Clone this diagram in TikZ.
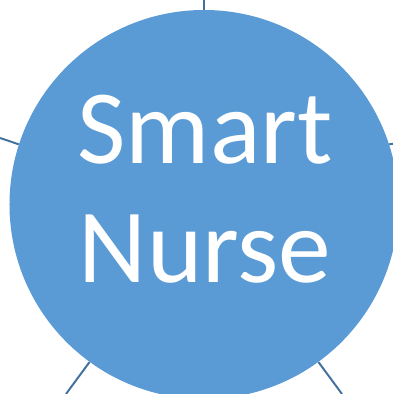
\documentclass[tikz,border=0pt]{standalone}
\usepackage{fontspec}
\setmainfont{Carlito}
\definecolor{hubfill}{HTML}{5B9BD5}
\definecolor{spoke}{HTML}{41719C}
\tikzset{
	hub/.style={circle, fill=hubfill, inner sep=0pt, minimum size=97.25mm},
	hubtext/.style={text=white, align=center, inner sep=0pt, font=\fontsize{75}{85}\selectfont},
	spokeline/.style={spoke, line width=1.4pt}
}
\begin{document}
\begin{tikzpicture}[x=0.25mm,y=0.25mm]
	\useasboundingbox (0,0) rectangle (393,394);
	\node[hub] (center) at (204,189.5) {};
	\node[hubtext] (title) at (205,205) {Smart\\Nurse};
	% spokes to the outer nodes
	\coordinate (up) at (204,394);
	\coordinate (left) at (0,256);
	\coordinate (right) at (430,256);
	\coordinate (downleft) at (66,0);
	\coordinate (downright) at (342,0);
	\draw[spokeline] (center.90) -- (up);
	\draw[spokeline] (center.162) -- (left);
	\draw[spokeline] (center.18) -- (right);
	\draw[spokeline] (center.234) -- (downleft);
	\draw[spokeline] (center.306) -- (downright);
\end{tikzpicture}
\end{document}
